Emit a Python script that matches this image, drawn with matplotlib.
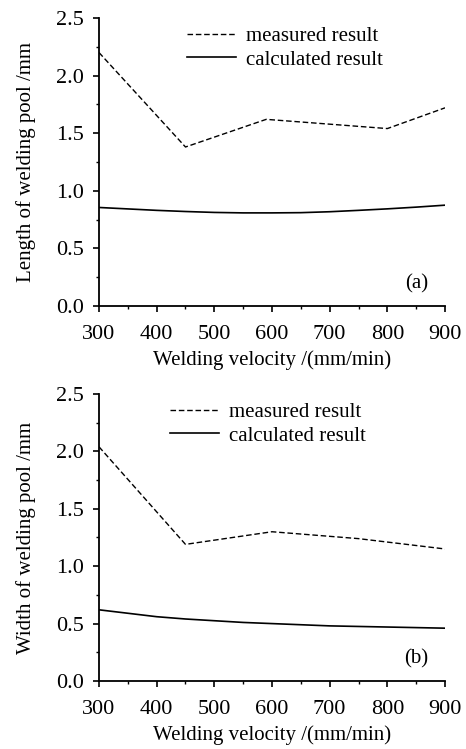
import numpy as np
import matplotlib.pyplot as plt
from matplotlib.ticker import MultipleLocator

plt.rcParams['font.family'] = ['Liberation Serif', 'DejaVu Serif']
plt.rcParams['font.size'] = 15

# --- panel (a): length of welding pool ---
v_meas_a = [300, 450, 590, 800, 900]
len_meas = [2.20, 1.38, 1.62, 1.54, 1.72]
v_calc_a = [300, 400, 450, 500, 550, 600, 650, 700, 750, 800, 850, 900]
len_calc = [0.855, 0.83, 0.82, 0.812, 0.808, 0.808, 0.81, 0.818, 0.83, 0.843, 0.858, 0.875]

# --- panel (b): width of welding pool ---
v_meas_b = [300, 450, 600, 750, 900]
wid_meas = [2.04, 1.19, 1.30, 1.24, 1.15]
v_calc_b = [300, 350, 400, 450, 500, 550, 600, 650, 700, 750, 800, 850, 900]
wid_calc = [0.62, 0.59, 0.56, 0.54, 0.525, 0.51, 0.50, 0.49, 0.48, 0.475, 0.47, 0.465, 0.46]

fig = plt.figure(figsize=(4.66, 7.49), dpi=100)
ax1 = fig.add_axes([0.2124, 0.5915, 0.7426, 0.3845])
ax2 = fig.add_axes([0.2124, 0.0908, 0.7426, 0.3832])

panels = [
    (ax1, v_meas_a, len_meas, v_calc_a, len_calc, 'Length of welding pool /mm', '(a)', (0.23, 1.0)),
    (ax2, v_meas_b, wid_meas, v_calc_b, wid_calc, 'Width of welding pool /mm', '(b)', (0.18, 1.0)),
]

for ax, vm, ym, vc, yc, ylab, tag, lpos in panels:
    ax.plot(vm, ym, 'k--', lw=1.0, dashes=(4, 2), label='measured result')
    ax.plot(vc, yc, 'k-', lw=1.2, label='calculated result')
    ax.set_xlim(300, 900)
    ax.set_ylim(0, 2.5)
    ax.xaxis.set_major_locator(MultipleLocator(100))
    ax.xaxis.set_minor_locator(MultipleLocator(50))
    ax.yaxis.set_major_locator(MultipleLocator(0.5))
    ax.yaxis.set_minor_locator(MultipleLocator(0.25))
    ax.yaxis.set_major_formatter(plt.FormatStrFormatter('%.1f'))
    ax.tick_params(which='major', direction='out', length=4, width=1.2, labelsize=16)
    ax.tick_params(which='minor', direction='out', length=2, width=1.0)
    ax.tick_params(axis='x', which='major', pad=10)
    ax.tick_params(axis='y', which='major', pad=7)
    for s in ('top', 'right'):
        ax.spines[s].set_visible(False)
    for s in ('left', 'bottom'):
        ax.spines[s].set_linewidth(1.3)
    ax.set_xlabel('Welding velocity /(mm/min)', labelpad=4)
    ax.set_ylabel(ylab, labelpad=14)
    ax.text(850, 0.19, tag, ha='center', va='center')
    ax.legend(loc='upper left', bbox_to_anchor=lpos, frameon=False,
              handlelength=2.35, handletextpad=0.5, labelspacing=0.2,
              borderaxespad=0, fontsize=15)

fig.savefig('out.png', dpi=100)
